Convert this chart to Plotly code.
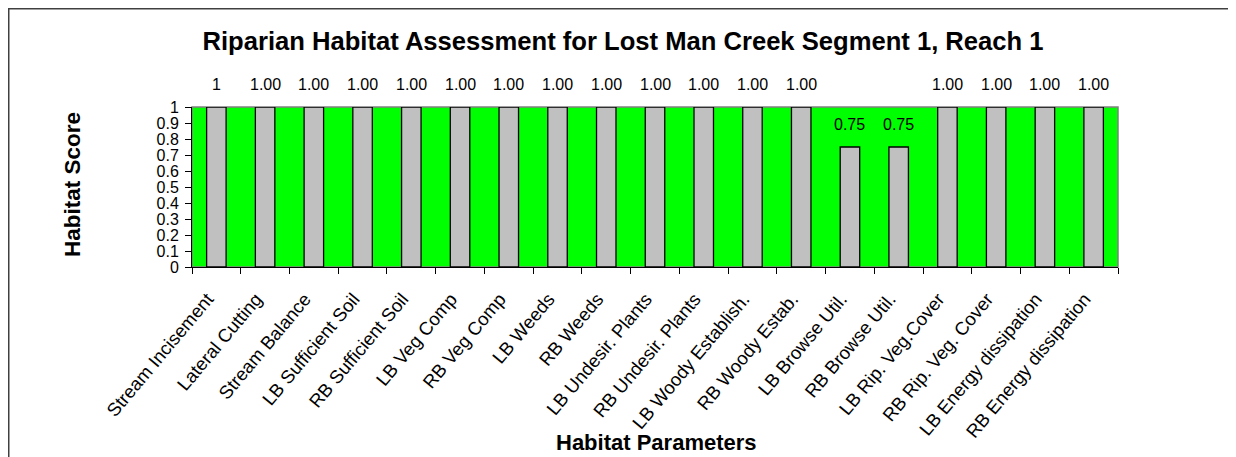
import plotly.graph_objects as go

categories = ["Stream Incisement", "Lateral Cutting", "Stream Balance", "LB Sufficient Soil",
              "RB Sufficient Soil", "LB Veg Comp", "RB Veg Comp", "LB Weeds", "RB Weeds",
              "LB Undesir. Plants", "RB Undesir. Plants", "LB Woody Establish.", "RB Woody Estab.",
              "LB Browse Util.", "RB Browse Util.", "LB Rip. Veg.Cover", "RB Rip. Veg. Cover",
              "LB Energy dissipation", "RB Energy dissipation"]
scores = [1, 1, 1, 1, 1, 1, 1, 1, 1, 1, 1, 1, 1, 0.75, 0.75, 1, 1, 1, 1]
value_labels = ["1", "1.00", "1.00", "1.00", "1.00", "1.00", "1.00", "1.00", "1.00", "1.00",
                "1.00", "1.00", "1.00", "0.75", "0.75", "1.00", "1.00", "1.00", "1.00"]
y_ticks = [0, 0.1, 0.2, 0.3, 0.4, 0.5, 0.6, 0.7, 0.8, 0.9, 1]
y_tick_labels = ["0", "0.1", "0.2", "0.3", "0.4", "0.5", "0.6", "0.7", "0.8", "0.9", "1"]

title_text = "Riparian Habitat Assessment for Lost Man Creek Segment 1, Reach 1"
x_title = "Habitat Parameters"
y_title = "Habitat Score"

FONT = "Arial, 'Liberation Sans', sans-serif"

# The page body has an 8px margin, so the figure starts at (8, 8) in the window.
OFF = 8
WIN_W, WIN_H = 1236, 457
W, H = WIN_W - OFF, WIN_H - OFF
# plot area in window pixels
PX0, PX1, PY0, PY1 = 192, 1118, 107, 267
L, T = PX0 - OFF, PY0 - OFF
R, B = W - (PX1 - OFF), H - (PY1 - OFF)
PW, PH = PX1 - PX0, PY1 - PY0


def px_x(px):
    return (px - PX0) / PW


def px_y(py):
    return (PY1 - py) / PH


fig = go.Figure()
fig.add_trace(go.Bar(
    x=categories, y=scores, width=0.4,
    marker=dict(color="#C0C0C0", line=dict(color="#000000", width=1.3)),
    hoverinfo="x+y",
))

annotations = []
for c, v, t in zip(categories, scores, value_labels):
    annotations.append(dict(x=c, y=v, xref="x", yref="y", text=t, showarrow=False,
                            yanchor="middle", xanchor="center", yshift=23,
                            font=dict(family=FONT, size=16, color="#000000")))

annotations.append(dict(x=px_x(656), y=px_y(442), xref="paper", yref="paper", text="<b>%s</b>" % x_title,
                        showarrow=False, xanchor="center", yanchor="middle",
                        font=dict(family=FONT, size=22, color="#000000")))
annotations.append(dict(x=px_x(72), y=px_y(184), xref="paper", yref="paper", text="<b>%s</b>" % y_title,
                        showarrow=False, xanchor="center", yanchor="middle", textangle=-90,
                        font=dict(family=FONT, size=22.5, color="#000000")))

shapes = [
    # plot-area border (gray)
    dict(type="rect", xref="paper", yref="paper", x0=0, x1=1, y0=0, y1=1,
         line=dict(color="#808080", width=1.5), layer="below"),
    # outer chart frame
    dict(type="path", xref="paper", yref="paper",
         path="M %f,%f L %f,%f L %f,%f" % (px_x(8.5), px_y(470), px_x(8.5), px_y(8.5), px_x(1235), px_y(8.5)),
         line=dict(color="#404040", width=2)),
    dict(type="line", xref="paper", yref="paper", x0=px_x(1234.5), x1=px_x(1234.5), y0=px_y(8.5), y1=px_y(470),
         line=dict(color="#D0D0D0", width=2)),
]

fig.update_layout(
    width=W, height=H,
    margin=dict(l=L, r=R, t=T, b=B, pad=0),
    paper_bgcolor="#FFFFFF",
    plot_bgcolor="#00FF00",
    showlegend=False,
    bargap=0.6,
    title=dict(text="<b>%s</b>" % title_text, x=(623 - OFF) / W, xref="container", xanchor="center",
               y=1 - (41.5 - OFF) / H, yref="container", yanchor="middle",
               font=dict(family=FONT, size=25.6, color="#000000")),
    xaxis=dict(range=[-0.5, len(categories) - 0.5], showgrid=False, zeroline=False,
               showline=True, linecolor="#000000", linewidth=1,
               ticks="outside", ticklen=6, tickcolor="#000000", tickson="boundaries",
               tickangle=-50, ticklabelstandoff=13, ticklabelshift=-9,
               tickfont=dict(family=FONT, size=18.5, color="#000000")),
    yaxis=dict(range=[0, 1], showgrid=False, zeroline=False,
               showline=True, linecolor="#000000", linewidth=1,
               ticks="outside", ticklen=6, tickcolor="#000000", ticklabelstandoff=3,
               tickmode="array", tickvals=y_ticks, ticktext=y_tick_labels,
               tickfont=dict(family=FONT, size=16, color="#000000")),
    annotations=annotations,
    shapes=shapes,
)

fig.write_html("out.html")
